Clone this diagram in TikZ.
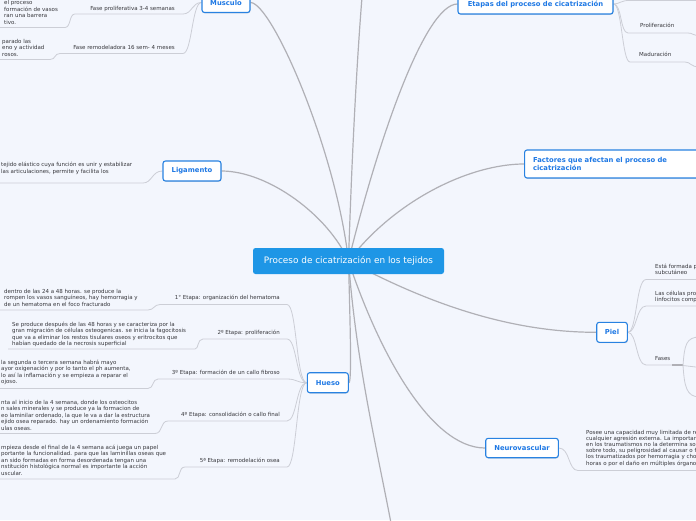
\documentclass[tikz,border=0pt]{standalone}
\usepackage{fontspec}
\setmainfont{DejaVu Sans}
\usetikzlibrary{shadows}
\definecolor{bgc}{RGB}{243,246,253}
\definecolor{tblue}{RGB}{30,120,228}
\definecolor{tborder}{RGB}{40,130,225}
\definecolor{cblue}{RGB}{30,150,230}
\definecolor{mline}{RGB}{176,176,182}
\definecolor{sline}{RGB}{204,206,214}
\definecolor{txt}{RGB}{55,55,60}
\newcommand\mystrut{\rule{0pt}{4.5pt}}
\pgfdeclarelayer{background}
\pgfsetlayers{background,main}
\tikzset{
 mainc/.style={draw=mline, line width=1.2pt},
 subc/.style={draw=sline, line width=0.8pt},
 topic/.style={draw=tborder, line width=1.1pt, fill=white, rounded corners=2.5pt, text=tblue,
   font=\bfseries\fontsize{6.8}{8}\selectfont, inner sep=0pt,
   drop shadow={shadow xshift=0.5pt, shadow yshift=-0.9pt, opacity=0.22}},
 central/.style={fill=cblue, rounded corners=2.5pt, text=white, font=\fontsize{8.9}{10}\selectfont,
   inner sep=0pt, minimum width=191pt, minimum height=26pt},
 lbl/.style={text=txt, font=\fontsize{5.5}{6.5}\selectfont, inner sep=0pt, anchor=base east},
 lblr/.style={text=txt, font=\fontsize{5.5}{6.5}\selectfont, inner sep=0pt, anchor=base west},
 para/.style={text=txt, font=\fontsize{5.5}{6.5}\selectfont, inner sep=0pt, align=left, anchor=north west},
}
\begin{document}
\begin{tikzpicture}[x=1pt,y=-1pt]
\useasboundingbox (0,0) rectangle (696,520);
\clip (0,0) rectangle (696,520);
% ---------- topic nodes
\node[central] (c) at (348.5,261) {Proceso de cicatrización en los tejidos};
\node[topic, minimum width=48pt, minimum height=20pt] (mus) at (226,2.5) {Musculo};
\node[topic, minimum width=155pt, minimum height=20pt] (eta) at (535.5,4) {Etapas del proceso de cicatrización};
\node[topic, minimum width=58pt, minimum height=20pt] (lig) at (192,171) {Ligamento};
\node[topic, minimum height=28pt, anchor=west, align=left, text width=172pt, inner xsep=8.5pt] (fac) at (524,164) {Factores que afectan el proceso de\\cicatrización};
\node[topic, minimum width=41pt, minimum height=20pt] (hue) at (327.8,382.7) {Hueso};
\node[topic, minimum width=30.6pt, minimum height=20pt] (piel) at (612,332.3) {Piel};
\node[topic, minimum width=72.6pt, minimum height=19.4pt] (neu) at (522,448) {Neurovascular};
% ---------- free ends
\coordinate (ttop) at (362,-3);
\coordinate (tbot) at (391,523);
% ---------- Musculo texts
\node[lbl] (m1) at (175,10.8) {Fase proliferativa 3-4 semanas};
\node[lbl] (m2) at (175,49.3) {Fase remodeladora 16 sem- 4 meses};
\node[para] (m1g) at (4,0.2) {\mystrut el proceso\\formación de vasos\\ran una barrera\\tivo.};
\node[para] (m2g) at (2,38.3) {\mystrut parado las\\eno y actividad\\rosos.};
% ---------- Etapas texts
\node[lblr] (e1) at (640,27.8) {Proliferación};
\node[lblr] (e2) at (639,56.8) {Maduración};
% ---------- Ligamento text
\node[para] (lg) at (1,162.2) {\mystrut tejido elástico cuya función es unir y estabilizar\\las articulaciones, permite y facilita los};
% ---------- Hueso texts
\node[lbl] (h1) at (280,299.8) {1° Etapa: organización del hematoma};
\node[lbl] (h2) at (280,334.8) {2º Etapa: proliferación};
\node[lbl] (h3) at (280,374.8) {3º Etapa: formación de un callo fibroso};
\node[lbl] (h4) at (280,416.8) {4º Etapa: consolidación o callo final};
\node[lbl] (h5) at (280,462.8) {5ª Etapa: remodelación osea};
\node[para] (h1g) at (4,288.3) {\mystrut dentro de las 24 a 48 horas. se produce la\\rompen los vasos sanguíneos, hay hemorragia y\\de un hematoma en el foco fracturado};
\node[para] (h2g) at (12,321.3) {\mystrut Se produce después de las 48 horas y se caracteriza por la\\gran migración de células osteogenicas. se inicia la fagocitosis\\que va a eliminar los restos tisulares oseos y eritrocitos que\\habían quedado de la necrosis superficial};
\node[para] (h3g) at (1,359.3) {\mystrut la segunda o tercera semana habrá mayo\\ayor oxigenación y por lo tanto el ph aumenta,\\lo así la inflamación y se empieza a reparar el\\ojoso.};
\node[para] (h4g) at (1,399.3) {\mystrut nta al inicio de la 4 semana, donde los osteocitos\\n sales minerales y se produce ya la formacion de\\eo laminilar ordenado, la que le va a dar la estructura\\ejido osea reparado. hay un ordenamiento formación\\ulas oseas.};
\node[para] (h5g) at (1,444.3) {\mystrut mpieza desde el final de la 4 semana acá juega un papel\\portante la funcionalidad. para que las laminillas oseas que\\an sido formadas en forma desordenada tengan una\\nstitución histológica normal es importante la acción\\uscular.};
% ---------- Piel texts
\node[para] (p1) at (655,263.3) {\mystrut Está formada p\\subcutáneo};
\node[para] (p2) at (655,290.3) {\mystrut Las células pro\\linfocitos comp};
\node[lblr] (p3) at (655,360.8) {Fases};
% ---------- Neurovascular text
\node[para, font=\fontsize{5.5}{6.2}\selectfont] (ng) at (586,429.3) {\mystrut Posee una capacidad muy limitada de re\\cualquier agresión externa. La importan\\en los traumatismos no la determina so\\sobre todo, su peligrosidad al causar o f\\los traumatizados por hemorragia y cho\\horas o por el daño en múltiples órgano};
% ---------- connectors
\begin{pgfonlayer}{background}
\fill[bgc] (0,0) rectangle (696,520);
% main
\draw[mainc] (c.center) .. controls (336,150) and (272,3) .. (mus.east);
\draw[mainc] (c.center) .. controls (352,150) and (357,60) .. (ttop);
\draw[mainc] (c.center) .. controls (378,140) and (425,4) .. (eta.west);
\draw[mainc] (c.center) .. controls (328,215) and (268,171) .. (lig.east);
\draw[mainc] (c.center) .. controls (395,200) and (470,164) .. (fac.west);
\draw[mainc] (c.center) .. controls (350,320) and (352,383) .. (hue.east);
\draw[mainc] (c.center) .. controls (440,310) and (520,332.3) .. (piel.west);
\draw[mainc] (c.center) .. controls (378,350) and (430,448) .. (neu.west);
\draw[mainc] (c.center) .. controls (356,360) and (375,440) .. (tbot);
% Musculo
\draw[subc] (mus.west) .. controls (192,2.5) and (192,14) .. (183,14) -- (75,14) .. controls (69,14) and (71,27.5) .. (65,27.5) -- (-2,27.5);
\draw[subc] (mus.west) .. controls (192,2.5) and (192,53.5) .. (183,53.5) -- (60,53.5) .. controls (54,53.5) and (56,59.5) .. (50,59.5) -- (-2,59.5);
% Etapas
\draw[subc] (eta.east) .. controls (620,4) and (620,0.4) .. (630,0.4) -- (700,0.4);
\draw[subc] (eta.east) .. controls (622,4) and (620,33) .. (628,33) -- (688,33) .. controls (693,33) and (692,35.5) .. (700,35.5);
\draw[subc] (eta.east) .. controls (622,4) and (622,62) .. (630,62) -- (685,62) .. controls (691,62) and (690,67) .. (700,67);
% Ligamento
\draw[subc] (lig.west) .. controls (152,171) and (152,183) .. (143,183) -- (-2,183);
% Hueso
\draw[subc] (hue.west) .. controls (296,382.7) and (297,304.5) .. (287,304.5) -- (160,304.5) .. controls (154,304.5) and (154,310) .. (148,310) -- (-2,310);
\draw[subc] (hue.west) .. controls (296,382.7) and (297,339) .. (287,339) -- (203,339) .. controls (197,339) and (199,349) .. (195,349) -- (8,349);
\draw[subc] (hue.west) .. controls (296,382.7) and (297,379) .. (287,379) -- (158,379) .. controls (152,379) and (154,388.5) .. (148,388.5) -- (-2,388.5);
\draw[subc] (hue.west) .. controls (296,382.7) and (297,421) .. (287,421) -- (168,421) .. controls (160,421) and (163,433.5) .. (155,433.5) -- (-2,433.5);
\draw[subc] (hue.west) .. controls (296,382.7) and (297,467) .. (287,467) -- (185,467) .. controls (178,467) and (181,479) .. (175,479) -- (-2,479);
% Piel
\draw[subc] (piel.east) .. controls (637,332.3) and (636,279.5) .. (646,279.5) -- (700,279.5);
\draw[subc] (piel.east) .. controls (637,332.3) and (636,306) .. (646,306) -- (700,306);
\draw[subc] (piel.east) .. controls (637,332.3) and (636,365) .. (646,365) -- (683,365);
\draw[draw=mline, line width=1.5pt] (672,365) -- (683,365);
\draw[subc] (683,365.5) .. controls (684.5,345) and (686,337) .. (700,337);
\draw[subc] (683,365.5) -- (700,367.5);
\draw[subc] (683,365.5) .. controls (684.5,386) and (686,397) .. (700,397);
% Neurovascular
\draw[subc] (neu.east) .. controls (570,448) and (568,470.5) .. (578,470.5) -- (700,470.5);
\end{pgfonlayer}
\end{tikzpicture}
\end{document}
